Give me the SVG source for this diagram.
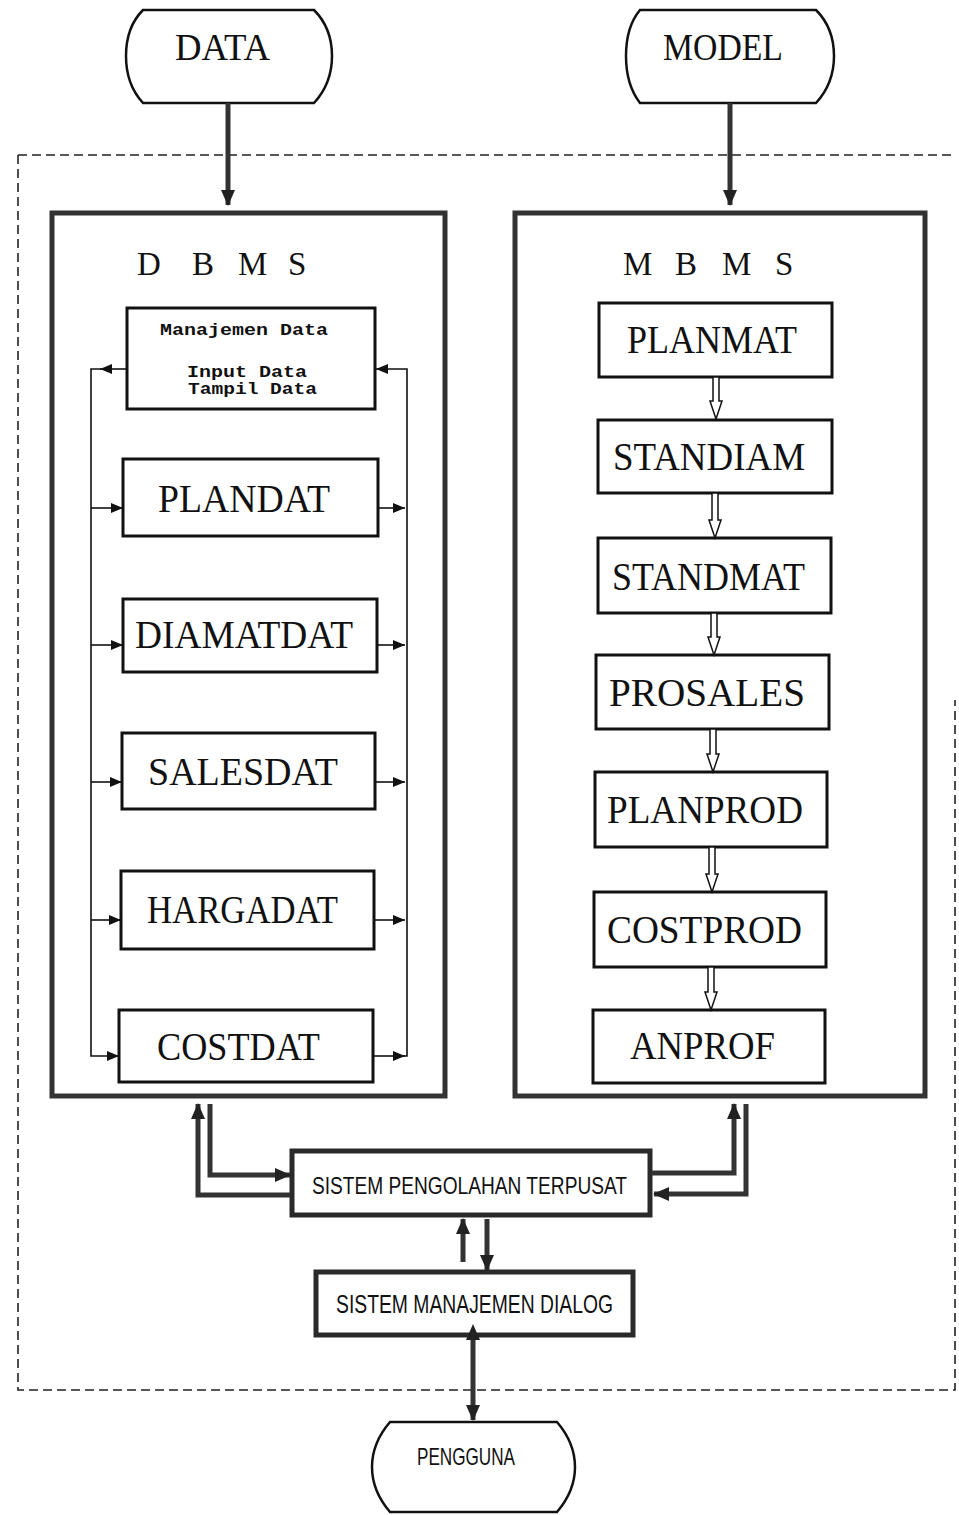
<svg xmlns="http://www.w3.org/2000/svg" width="959" height="1515" viewBox="0 0 959 1515">
<style>
.serif{font-family:"Liberation Serif","Times New Roman",serif;fill:#111}
.big{font-size:40px}
.sans{font-family:"Liberation Sans",Arial,sans-serif;fill:#111}
.mono{font-family:"Liberation Mono","Courier New",monospace;font-weight:bold;font-size:16px;fill:#111}
.term{fill:#fff;stroke:#111;stroke-width:2.5}
.outer{fill:#fff;stroke:#333;stroke-width:5}
.box{fill:#fff;stroke:#111;stroke-width:3}
.thickbox{fill:#fff;stroke:#2a2a2a;stroke-width:5}
.thin{fill:none;stroke:#111;stroke-width:1.6}
.thick{fill:none;stroke:#333;stroke-width:5}
.dash{fill:none;stroke:#222;stroke-width:1.6;stroke-dasharray:9 5}
.hollow{fill:#fff;stroke:#111;stroke-width:1.5}
</style>
<defs>
<marker id="ah" markerUnits="userSpaceOnUse" markerWidth="12" markerHeight="10" refX="12" refY="5" orient="auto">
<path d="M0,0 L12,5 L0,10 z" fill="#111"/>
</marker>
<marker id="ahb" markerUnits="userSpaceOnUse" markerWidth="16" markerHeight="14" refX="15" refY="7" orient="auto">
<path d="M0,0 L16,7 L0,14 z" fill="#222"/>
</marker>
<marker id="ahs" markerUnits="userSpaceOnUse" markerWidth="16" markerHeight="14" refX="1" refY="7" orient="auto-start-reverse">
<path d="M0,0 L16,7 L0,14 z" fill="#222"/>
</marker>
</defs>

<rect width="959" height="1515" fill="#fff"/>

<!-- boundary -->
<g id="boundary">
<path class="dash" d="M18,155 H955"/>
<path class="dash" d="M18,155 V1390 H955 V700"/>
</g>

<!-- terminals -->
<g id="data">
<path class="term" d="M143,10 H314 C326,22 332,38 332,56 C332,74 326,90 314,103 H143 C131,90 126,74 126,56 C126,38 131,22 143,10 Z"/>
<text class="serif" x="175" y="60" font-size="38" textLength="95" lengthAdjust="spacingAndGlyphs">DATA</text>
</g>
<g id="model">
<path class="term" d="M640,10 H816 C828,22 834,38 834,56 C834,74 828,90 816,103 H640 C630,90 626,74 626,56 C626,38 630,22 640,10 Z"/>
<text class="serif" x="663" y="60" font-size="38" textLength="120" lengthAdjust="spacingAndGlyphs">MODEL</text>
</g>
<g id="pengguna">
<path class="term" d="M390,1422 H557 C569,1436 575,1452 575,1467 C575,1482 569,1498 557,1512 H390 C378,1498 372,1482 372,1467 C372,1452 378,1436 390,1422 Z"/>
<text class="sans" x="417" y="1465" font-size="24" textLength="98" lengthAdjust="spacingAndGlyphs">PENGGUNA</text>
</g>

<!-- DBMS -->
<g id="dbms">
<rect class="outer" x="52" y="213" width="393" height="883"/>
<text class="serif" font-size="33" x="137 192 238 288" y="275">DBMS</text>
</g>
<g id="manajemen">
<rect class="box" x="127" y="308" width="248" height="101" stroke-width="4"/>
<text class="mono" x="160" y="335" textLength="168" lengthAdjust="spacingAndGlyphs">Manajemen Data</text>
<text class="mono" x="187" y="377" textLength="120" lengthAdjust="spacingAndGlyphs">Input Data</text>
<text class="mono" x="188" y="394" textLength="129" lengthAdjust="spacingAndGlyphs">Tampil Data</text>
</g>
<g id="plandat">
<rect class="box" x="123" y="459" width="255" height="77"/>
<text class="serif big" x="158" y="512" textLength="172" lengthAdjust="spacingAndGlyphs">PLANDAT</text>
</g>
<g id="diamatdat">
<rect class="box" x="123" y="599" width="254" height="73"/>
<text class="serif big" x="135" y="648" textLength="218" lengthAdjust="spacingAndGlyphs">DIAMATDAT</text>
</g>
<g id="salesdat">
<rect class="box" x="122" y="733" width="253" height="76"/>
<text class="serif big" x="148" y="785" textLength="190" lengthAdjust="spacingAndGlyphs">SALESDAT</text>
</g>
<g id="hargadat">
<rect class="box" x="121" y="871" width="253" height="78"/>
<text class="serif big" x="147" y="923" textLength="191" lengthAdjust="spacingAndGlyphs">HARGADAT</text>
</g>
<g id="costdat">
<rect class="box" x="119" y="1010" width="254" height="72"/>
<text class="serif big" x="157" y="1060" textLength="163" lengthAdjust="spacingAndGlyphs">COSTDAT</text>
</g>

<!-- MBMS -->
<g id="mbms">
<rect class="outer" x="515" y="213" width="410" height="883"/>
<text class="serif" font-size="33" x="623 675 722 775" y="275">MBMS</text>
</g>
<g id="planmat">
<rect class="box" x="599" y="303" width="233" height="74"/>
<text class="serif big" x="627" y="353" textLength="170" lengthAdjust="spacingAndGlyphs">PLANMAT</text>
</g>
<g id="standiam">
<rect class="box" x="598" y="420" width="234" height="73"/>
<text class="serif big" x="613" y="470" textLength="192" lengthAdjust="spacingAndGlyphs">STANDIAM</text>
</g>
<g id="standmat">
<rect class="box" x="598" y="538" width="233" height="75"/>
<text class="serif big" x="612" y="590" textLength="193" lengthAdjust="spacingAndGlyphs">STANDMAT</text>
</g>
<g id="prosales">
<rect class="box" x="596" y="655" width="233" height="74"/>
<text class="serif big" x="609" y="706" textLength="196" lengthAdjust="spacingAndGlyphs">PROSALES</text>
</g>
<g id="planprod">
<rect class="box" x="595" y="772" width="232" height="75"/>
<text class="serif big" x="607" y="823" textLength="196" lengthAdjust="spacingAndGlyphs">PLANPROD</text>
</g>
<g id="costprod">
<rect class="box" x="594" y="892" width="232" height="75"/>
<text class="serif big" x="607" y="943" textLength="195" lengthAdjust="spacingAndGlyphs">COSTPROD</text>
</g>
<g id="anprof">
<rect class="box" x="593" y="1010" width="232" height="73"/>
<text class="serif big" x="630" y="1059" textLength="145" lengthAdjust="spacingAndGlyphs">ANPROF</text>
</g>

<!-- center -->
<g id="pengolahan">
<rect class="thickbox" x="292" y="1151" width="358" height="64"/>
<text class="sans" x="312" y="1194" font-size="24" textLength="315" lengthAdjust="spacingAndGlyphs">SISTEM PENGOLAHAN TERPUSAT</text>
</g>
<g id="dialog">
<rect class="thickbox" x="316" y="1272" width="317" height="63"/>
<text class="sans" x="336" y="1313" font-size="25" textLength="277" lengthAdjust="spacingAndGlyphs">SISTEM MANAJEMEN DIALOG</text>
</g>

<!-- connectors -->
<g id="connectors">
<path class="thick" d="M228,103 V205" marker-end="url(#ahb)"/>
<path class="thick" d="M730,103 V205" marker-end="url(#ahb)"/>

<path class="thin" d="M126,369 H100" marker-end="url(#ah)"/>
<path class="thin" d="M101,369 H91 V1056 H119" marker-end="url(#ah)"/>
<path class="thin" d="M91,508 H123" marker-end="url(#ah)"/>
<path class="thin" d="M91,645 H123" marker-end="url(#ah)"/>
<path class="thin" d="M91,782 H122" marker-end="url(#ah)"/>
<path class="thin" d="M91,920 H121" marker-end="url(#ah)"/>

<path class="thin" d="M378,508 H405" marker-end="url(#ah)"/>
<path class="thin" d="M377,645 H405" marker-end="url(#ah)"/>
<path class="thin" d="M375,782 H405" marker-end="url(#ah)"/>
<path class="thin" d="M374,920 H405" marker-end="url(#ah)"/>
<path class="thin" d="M373,1056 H405"  marker-end="url(#ah)"/>
<path class="thin" d="M404,1056 H407 V369 H376" marker-end="url(#ah)"/>

<path class="hollow" d="M713,377 H719 V401 H722 L716,419 L710,401 H713 Z"/>
<path class="hollow" d="M712,493 H718 V520 H721 L715,538 L709,520 H712 Z"/>
<path class="hollow" d="M711,613 H717 V637 H720 L714,655 L708,637 H711 Z"/>
<path class="hollow" d="M710,729 H716 V754 H719 L713,772 L707,754 H710 Z"/>
<path class="hollow" d="M709,847 H715 V874 H718 L712,892 L706,874 H709 Z"/>
<path class="hollow" d="M708,967 H714 V992 H717 L711,1010 L705,992 H708 Z"/>

<path class="thick" d="M210,1104 V1175 H290" marker-end="url(#ahb)"/>
<path class="thick" d="M290,1195 H198 V1104" marker-end="url(#ahb)"/>
<path class="thick" d="M652,1173 H734 V1104" marker-end="url(#ahb)"/>
<path class="thick" d="M746,1104 V1194 H654" marker-end="url(#ahb)"/>

<path class="thick" d="M463,1262 V1219" marker-end="url(#ahb)"/>
<path class="thick" d="M487,1219 V1270" marker-end="url(#ahb)"/>

<path class="thick" d="M473,1339 V1420" marker-start="url(#ahs)" marker-end="url(#ahb)"/>
</g>
</svg>
